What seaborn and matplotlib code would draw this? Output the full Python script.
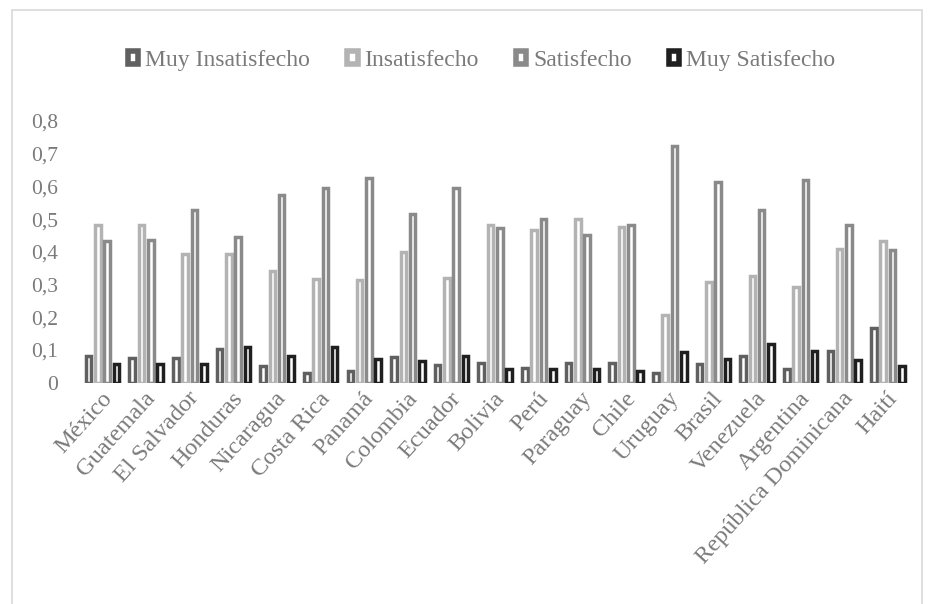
import numpy as np
import pandas as pd
import matplotlib
matplotlib.use("Agg")
import matplotlib.pyplot as plt
import matplotlib.transforms as mtransforms
import seaborn as sns
from matplotlib.patches import Patch, Rectangle
from matplotlib.ticker import FuncFormatter

paises = ["México", "Guatemala", "El Salvador", "Honduras", "Nicaragua", "Costa Rica",
          "Panamá", "Colombia", "Ecuador", "Bolivia", "Perú", "Paraguay", "Chile",
          "Uruguay", "Brasil", "Venezuela", "Argentina", "República Dominicana", "Haití"]
niveles = ["Muy Insatisfecho", "Insatisfecho", "Satisfecho", "Muy Satisfecho"]

muy_insatisfecho = [0.080, 0.075, 0.075, 0.101, 0.051, 0.028, 0.036, 0.077, 0.055, 0.060,
                    0.044, 0.060, 0.060, 0.028, 0.056, 0.081, 0.040, 0.097, 0.166]
insatisfecho = [0.483, 0.483, 0.393, 0.393, 0.341, 0.317, 0.313, 0.398, 0.320, 0.481,
                0.465, 0.500, 0.476, 0.206, 0.306, 0.325, 0.293, 0.408, 0.432]
satisfecho = [0.432, 0.436, 0.528, 0.444, 0.575, 0.594, 0.627, 0.515, 0.594, 0.473,
              0.500, 0.452, 0.481, 0.724, 0.614, 0.529, 0.618, 0.481, 0.404]
muy_satisfecho = [0.058, 0.058, 0.058, 0.109, 0.080, 0.109, 0.073, 0.065, 0.081, 0.040,
                  0.040, 0.040, 0.036, 0.094, 0.073, 0.117, 0.097, 0.069, 0.052]

colores = ["#606060", "#b3b3b3", "#8a8a8a", "#1f1f1f"]
texto = "#7a7a7a"

series = [muy_insatisfecho, insatisfecho, satisfecho, muy_satisfecho]
df = pd.DataFrame({
    "País": [p for _ in niveles for p in paises],
    "Nivel": [n for n in niveles for _ in paises],
    "Valor": [v for s in series for v in s],
})

sns.set_style("white")
plt.rcParams["font.family"] = ["Liberation Serif", "DejaVu Serif"]

fig = plt.figure(figsize=(9.35, 6.04), dpi=100)
ax = fig.add_axes([0.0863, 0.3667, 0.8867, 0.433])

sns.barplot(data=df, x="País", y="Valor", hue="Nivel", hue_order=niveles,
            palette=colores, width=0.853, gap=0.4, saturation=1, legend=False,
            errorbar=None, ax=ax)

for p in ax.patches:
    c = p.get_facecolor()
    p.set_edgecolor(c)
    p.set_facecolor("white")
    p.set_linewidth(2.5)

ax.set_ylim(0, 0.8)
ax.set_xlim(-0.5, len(paises) - 0.5)
ax.set_yticks(np.arange(0, 0.81, 0.1))
ax.yaxis.set_major_formatter(FuncFormatter(lambda v, _: "0" if abs(v) < 1e-9 else f"{v:.1f}".replace(".", ",")))
for s in ax.spines.values():
    s.set_visible(False)
ax.set_xlabel("")
ax.set_ylabel("")
ax.tick_params(axis="y", length=0, pad=16, labelsize=15.5, labelcolor=texto)
ax.tick_params(axis="x", length=0, pad=4, labelsize=17.5, labelcolor=texto)
plt.setp(ax.get_xticklabels(), rotation=48, ha="right", va="top", rotation_mode="anchor")
shift = mtransforms.ScaledTranslation(-2 / 100, 0, fig.dpi_scale_trans)
for lab in ax.get_xticklabels():
    lab.set_transform(lab.get_transform() + shift)

handles = [Patch(facecolor="white", edgecolor=c, linewidth=4, label=n) for n, c in zip(niveles, colores)]
leg = fig.legend(handles=handles, loc="center", bbox_to_anchor=(0.515, 0.90), ncol=4,
                 frameon=False, fontsize=17, handlelength=0.45, handleheight=0.45,
                 handletextpad=0.3, columnspacing=1.55, labelcolor=texto)

fig.patches.append(Rectangle((12 / 935, -0.01), (922 - 12) / 935, 1 - 10 / 604 + 0.01,
                             transform=fig.transFigure, fill=False, edgecolor="#d9d9d9",
                             linewidth=1.2))

fig.savefig("out.png", dpi=100)
